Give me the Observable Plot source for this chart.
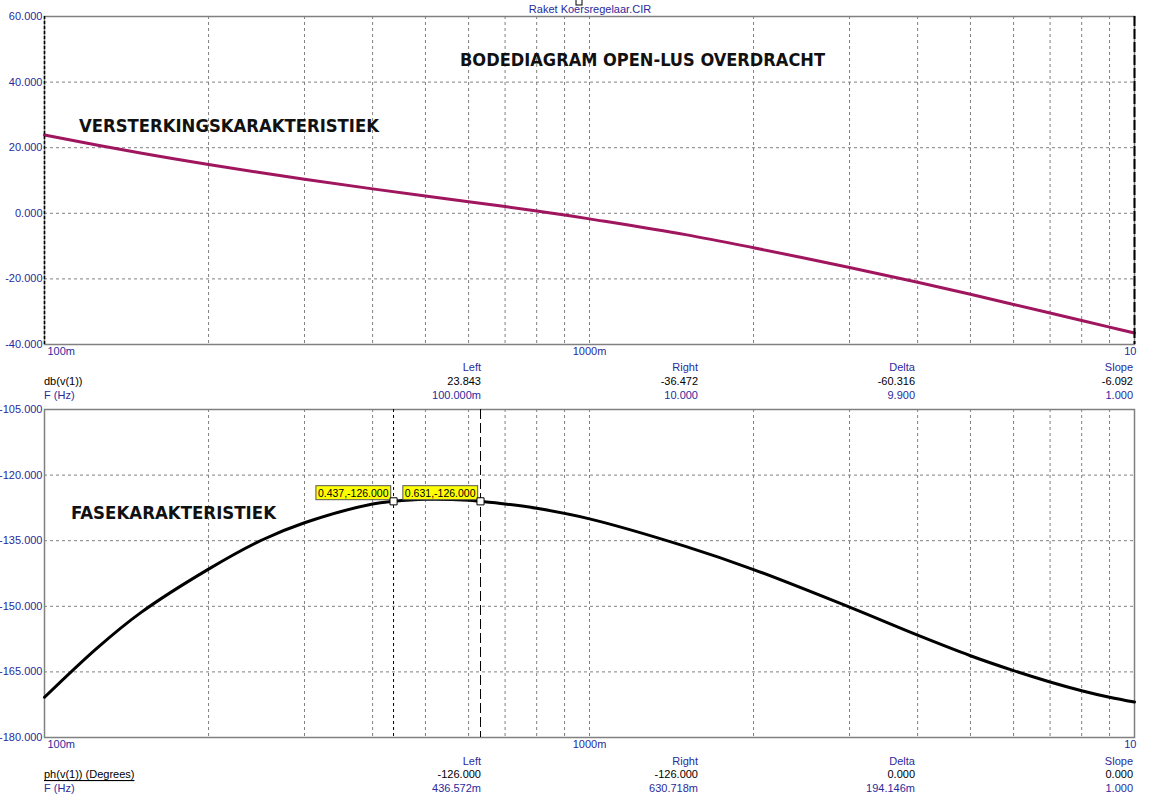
<!DOCTYPE html>
<html><head><meta charset="utf-8">
<script src="https://cdn.jsdelivr.net/npm/d3@7"></script>
<script src="https://cdn.jsdelivr.net/npm/@observablehq/plot@0.6"></script>
<style>
html,body{margin:0;padding:0;background:#fff;overflow:hidden;}
#page{position:relative;width:1153px;height:798px;font-family:"Liberation Sans",Arial,sans-serif;}
#page > svg{position:absolute;left:0;}
</style></head><body><div id="page"></div>
<script>
// ---------- data ----------
const gainFreq = [0.1, 0.15, 0.2, 0.3, 0.4, 0.5, 0.6, 0.7, 0.8, 0.9, 1.0, 1.5, 2, 3, 4, 5, 6, 7, 8, 9, 10];
const gainDb   = [23.843, 18.38, 14.88, 10.39, 7.45, 5.27, 3.53, 2.06, 0.7, -0.5, -1.7, -6.5, -10.5, -16.5, -21.0, -24.7, -27.8, -30.4, -32.7, -34.7, -36.472];

const phaseFreq = [0.1, 0.125, 0.15, 0.2, 0.25, 0.3, 0.4, 0.437, 0.5, 0.6, 0.631, 0.7, 0.8, 1.0, 1.5, 2, 3, 4, 5, 6, 7, 8, 9, 10];
const phaseDeg  = [-170.8, -159.5, -151.5, -141.5, -134.9, -130.9, -126.6, -126.0, -125.55, -125.75, -126.0, -126.6, -127.6, -130.0, -136.3, -141.6, -150.2, -156.6, -161.3, -164.7, -167.3, -169.3, -170.8, -171.9];

const gainTicks  = [-40, -20, 0, 20, 40, 60];
const phaseTicks = [-180, -165, -150, -135, -120, -105];
const xGridTicks = [0.2, 0.3, 0.4, 0.5, 0.6, 0.7, 0.8, 0.9, 1, 2, 3, 4, 5, 6, 7, 8, 9];
const xLabelValues = [0.1, 1, 10];
const xLabelTexts  = ["100m", "1000m", "10"];

const gainCursors  = [0.1, 10];
const phaseCursors = [0.437, 0.631];
const phaseCursorValues = [-126.0, -126.0];

const readHeaders = ["Left", "Right", "Delta", "Slope"];
const gainReadY   = ["23.843", "-36.472", "-60.316", "-6.092"];
const gainReadF   = ["100.000m", "10.000", "9.900", "1.000"];
const phaseReadY  = ["-126.000", "-126.000", "0.000", "0.000"];
const phaseReadF  = ["436.572m", "630.718m", "194.146m", "1.000"];

const fileTitle = "Raket Koersregelaar.CIR";
const mainTitle = "BODEDIAGRAM OPEN-LUS OVERDRACHT";
const gainTitle = "VERSTERKINGSKARAKTERISTIEK";
const phaseTitle = "FASEKARAKTERISTIEK";

// ---------- style ----------
const navy = "#2a2a9c";
const gridColor = "#808080";
const page = document.getElementById("page");

function panel({freq, vals, yTicks, lineColor, cursorStyles, cursors, extra = []}) {
  const pts = freq.map((f, i) => ({f, v: vals[i]}));
  const labs = xLabelValues.map((v, i) => ({v, t: xLabelTexts[i]}));
  return Plot.plot({
    width: 1153, height: 360,
    marginLeft: 44, marginRight: 19, marginTop: 16, marginBottom: 16,
    style: {fontFamily: "'Liberation Sans', Arial, sans-serif", fontSize: "11px", background: "transparent", overflow: "visible"},
    x: {type: "log", domain: [0.1, 10], axis: null},
    y: {domain: [yTicks[0], yTicks[yTicks.length - 1]], axis: null},
    marks: [
      Plot.gridX(xGridTicks, {stroke: gridColor, strokeOpacity: 1, strokeDasharray: "3,3"}),
      Plot.gridY(yTicks.slice(1, -1), {stroke: gridColor, strokeOpacity: 1, strokeDasharray: "3,3"}),
      Plot.frame({stroke: gridColor, strokeWidth: 1.5}),
      Plot.axisY(yTicks, {tickSize: 0, tickPadding: 2, tickFormat: d => d.toFixed(3), color: navy, fill: navy, label: null}),
      Plot.text(labs.slice(0, 1), {x: "v", text: "t", frameAnchor: "bottom", dy: 10, dx: 3, textAnchor: "start", fill: navy}),
      Plot.text(labs.slice(1, 2), {x: "v", text: "t", frameAnchor: "bottom", dy: 10, textAnchor: "middle", fill: navy}),
      Plot.text(labs.slice(2, 3), {x: "v", text: "t", frameAnchor: "bottom", dy: 10, dx: 2, textAnchor: "end", fill: navy}),
      Plot.line(pts, {x: "f", y: "v", stroke: lineColor, strokeWidth: 3, curve: "catmull-rom"}),
      ...cursors.map((c, i) => Plot.ruleX([c], {stroke: "black", strokeWidth: cursorStyles[i].w, strokeDasharray: cursorStyles[i].dash})),
      ...extra
    ]
  });
}

const topPlot = panel({
  freq: gainFreq, vals: gainDb, yTicks: gainTicks, lineColor: "#a0165e",
  cursors: gainCursors, cursorStyles: [{w: 1.5, dash: "3,2"}, {w: 2, dash: "10,3"}]
});
topPlot.style.top = "0px";
page.appendChild(topPlot);

const cursorPts = phaseCursors.map((f, i) => ({f, v: phaseCursorValues[i]}));
const cursorLabels = cursorPts.map(d => `${d.f.toFixed(3)},${d.v.toFixed(3)}`);
const bottomPlot = panel({
  freq: phaseFreq, vals: phaseDeg, yTicks: phaseTicks, lineColor: "#000000",
  cursors: phaseCursors, cursorStyles: [{w: 1, dash: "3,3"}, {w: 1, dash: "10,4"}],
  extra: [
    Plot.text(cursorPts, {x: "f", y: "v", text: (d, i) => cursorLabels[i], textAnchor: "end", dx: -5, dy: -8, fill: "black", fontSize: 10.5}),
    Plot.dot(cursorPts, {x: "f", y: "v", symbol: "square", r: 4, fill: "white", stroke: "black", strokeWidth: 1})
  ]
});
bottomPlot.style.top = "393px";
page.appendChild(bottomPlot);

// yellow boxes behind cursor labels
d3.select(bottomPlot).selectAll("text").filter(function () { return cursorLabels.includes(this.textContent); })
  .each(function () {
    const b = this.getBBox();
    const t = this.getAttribute("transform");
    d3.select(this.parentNode).insert("rect", () => this)
      .attr("x", b.x - 2).attr("y", b.y - 1).attr("width", b.width + 4).attr("height", b.height + 2)
      .attr("transform", t).attr("fill", "#ffff00").attr("stroke", "#555").attr("stroke-width", 1);
  });

// ---------- overlay texts ----------
const ov = d3.select(page).append("svg")
  .attr("width", 1153).attr("height", 798)
  .style("position", "absolute").style("top", "0px").style("left", "0px").style("pointer-events", "none")
  .style("font-family", "'Liberation Sans', Arial, sans-serif").style("font-size", "11px");

ov.append("rect").attr("x", 576).attr("y", -1).attr("width", 6).attr("height", 6).attr("fill", "white").attr("stroke", "black");
ov.append("text").attr("x", 590).attr("y", 9).attr("text-anchor", "middle").attr("dominant-baseline", "central")
  .attr("fill", navy).text(fileTitle);

function bigLabel(txt, x, y, w) {
  ov.append("text").attr("x", x).attr("y", y).attr("textLength", w).attr("lengthAdjust", "spacingAndGlyphs")
    .style("font-family", "'DejaVu Sans Condensed','DejaVu Sans',sans-serif").style("font-weight", "bold")
    .style("font-size", "18.5px").attr("fill", "#111").text(txt);
}
bigLabel(mainTitle, 460, 66, 365);
bigLabel(gainTitle, 79, 132, 300);
bigLabel(phaseTitle, 71, 519, 205);

const colX = [481, 698, 915, 1133];
function readout(rowY, yName, yNameUnderline, yVals, fVals) {
  readHeaders.forEach((h, i) => ov.append("text").attr("x", colX[i]).attr("y", rowY[0]).attr("text-anchor", "end")
    .attr("dominant-baseline", "central").attr("fill", navy).text(h));
  ov.append("text").attr("x", 44).attr("y", rowY[1]).attr("dominant-baseline", "central").attr("fill", "black")
    .style("text-decoration", yNameUnderline ? "underline" : "none").text(yName);
  ov.append("text").attr("x", 44).attr("y", rowY[2]).attr("dominant-baseline", "central").attr("fill", navy).text("F (Hz)");
  yVals.forEach((v, i) => ov.append("text").attr("x", colX[i]).attr("y", rowY[1]).attr("text-anchor", "end")
    .attr("dominant-baseline", "central").attr("fill", "black").text(v));
  fVals.forEach((v, i) => ov.append("text").attr("x", colX[i]).attr("y", rowY[2]).attr("text-anchor", "end")
    .attr("dominant-baseline", "central").attr("fill", navy).text(v));
}
readout([367, 381, 395], "db(v(1))", false, gainReadY, gainReadF);
readout([760.5, 774, 788], "ph(v(1)) (Degrees)", true, phaseReadY, phaseReadF);
</script></body></html>
